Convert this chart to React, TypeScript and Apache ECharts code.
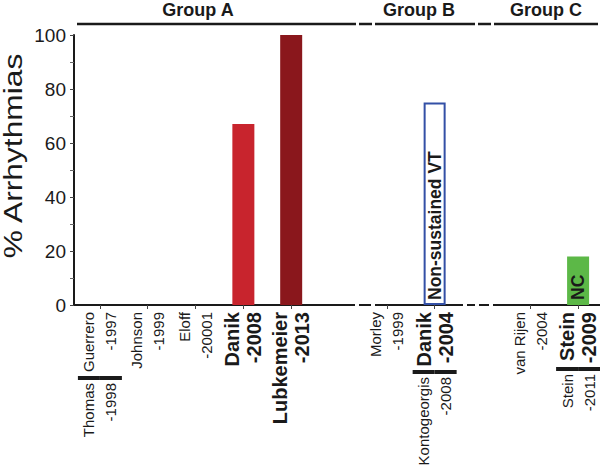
import React, { useEffect, useRef } from 'react';
import * as echarts from 'echarts';

// ---- data ----
const categories = [
  'Thomas | Guerrero', 'Johnson', 'Eloff', 'Danik 2008', 'Lubkemeier', 'gapAB',
  'Morley', 'Kontogeorgis | Danik', 'gapBC', 'van Rijen', 'Stein | Stein',
];
const authorCells = [
  ['Thomas', 'Guerrero'], ['Johnson'], ['Eloff'], ['Danik'], ['Lubkemeier'], [],
  ['Morley'], ['Kontogeorgis', 'Danik'], [], ['van Rijen'], ['Stein', 'Stein'],
];
const yearCells = [
  ['-1998', '-1997'], ['-1999'], ['-20001'], ['-2008'], ['-2013'], [],
  ['-1999'], ['-2008', '-2004'], [], ['-2004'], ['-2011', '-2009'],
];
const highlighted = [
  [false, false], [false], [false], [true], [true], [],
  [false], [false, true], [], [false], [false, true],
];
const arrhythmiaPct: (number | null)[] = [0, 0, 0, 67, 100, null, 0, 75, null, 0, 18];
const barNotes = ['', '', '', '', '', '', '', 'Non-sustained VT', '', '', 'NC'];
const groupNames = ['Group A', 'Group B', 'Group C'];

// ---- styles ----
const FONT = '"Liberation Sans", Arial, Helvetica, sans-serif';
const INK = '#1a1a1a';
const NORMAL = 15;
const BOLD = 20;
const LH = 22;
const barStyles: Record<number, any> = {
  3: { color: '#c8242d' },
  4: { color: '#8a171c' },
  7: { color: '#ffffff', borderColor: '#3350a6', borderWidth: 2 },
  10: { color: '#5cb847' },
};

export default function App() {
  const ref = useRef<HTMLDivElement>(null);

  useEffect(() => {
    document.body.style.margin = '0';
    if (!ref.current) return;
    const chart = echarts.init(ref.current, null, { renderer: 'svg' });

    const ctx = document.createElement('canvas').getContext('2d')!;
    const measure = (t: string, bold: boolean) => {
      ctx.font = `${bold ? 'bold' : 'normal'} ${bold ? BOLD : NORMAL}px ${FONT}`;
      return Math.ceil(ctx.measureText(t).width);
    };

    const rich: any = {
      n: { fontFamily: FONT, fontSize: NORMAL, lineHeight: LH, color: INK, align: 'right' },
      b: { fontFamily: FONT, fontSize: BOLD, fontWeight: 'bold', lineHeight: LH, color: INK, align: 'right' },
      gap: { width: 3, lineHeight: LH, fontSize: NORMAL, align: 'right' },
      bar: { width: 4, height: LH, lineHeight: LH, fontSize: NORMAL, backgroundColor: INK, align: 'right' },
    };
    authorCells.forEach((cells, i) => {
      if (cells.length === 2) {
        [0, 1].forEach((k) => {
          const bold = highlighted[i][k];
          const w = Math.max(measure(cells[k], bold), measure(yearCells[i][k], bold));
          rich[`c${i}k${k}`] = { ...(bold ? rich.b : rich.n), width: w };
        });
      }
    });

    const formatter = (value: string) => {
      const i = categories.indexOf(value);
      const a = authorCells[i];
      const y = yearCells[i];
      const h = highlighted[i];
      if (!a || !a.length) return '';
      if (a.length === 1) {
        const s = h[0] ? 'b' : 'n';
        return `{${s}|${a[0]}}\n{${s}|${y[0]}}`;
      }
      const sep = '{gap| }{bar| }{gap| }';
      return `{c${i}k0|${a[0]}}${sep}{c${i}k1|${a[1]}}\n{c${i}k0|${y[0]}}${sep}{c${i}k1|${y[1]}}`;
    };

    const seriesData = arrhythmiaPct.map((v, i) => {
      const item: any = { value: v == null ? '-' : v };
      if (barStyles[i]) item.itemStyle = barStyles[i];
      if (barNotes[i]) {
        item.label = {
          show: true,
          formatter: barNotes[i],
          position: 'insideBottom',
          distance: 5,
          rotate: 90,
          align: 'left',
          verticalAlign: 'middle',
          fontFamily: FONT,
          fontSize: 17.5,
          fontWeight: 'bold',
          color: INK,
        };
      }
      return item;
    });

    const topSegments = [[77, 356], [359, 372], [375, 475], [478, 491], [494, 598]];
    const bottomSegments = [[73, 355], [359, 371], [375, 463], [467, 475], [479, 489], [493, 600]];
    const groupX = [198, 419, 546];

    const graphic: any[] = [
      ...topSegments.map(([x1, x2]) => ({
        type: 'line', shape: { x1, y1: 24, x2, y2: 24 },
        style: { stroke: INK, lineWidth: 2.5 }, silent: true,
      })),
      ...bottomSegments.map(([x1, x2]) => ({
        type: 'line', shape: { x1, y1: 305, x2, y2: 305 },
        style: { stroke: INK, lineWidth: 2 }, silent: true,
      })),
      ...groupNames.map((g, i) => ({
        type: 'text', x: groupX[i], y: 10,
        style: { text: g, fontFamily: FONT, fontSize: 18, fontWeight: 'bold', fill: INK, align: 'center', verticalAlign: 'middle' },
      })),
      {
        type: 'text', x: 13, y: 156, rotation: Math.PI / 2, scaleX: 1.22,
        style: { text: '% Arrhythmias', fontFamily: FONT, fontSize: 26, fill: INK, align: 'center', verticalAlign: 'middle' },
      },
    ];

    chart.setOption({
      animation: false,
      grid: { left: 76, top: 35, width: 526, height: 270, outerBoundsMode: 'none', containLabel: false },
      xAxis: {
        type: 'category',
        data: categories,
        axisLine: { show: false },
        axisTick: {
          show: true, alignWithLabel: true, length: 4,
          interval: (index: number, value: string) => !String(value).startsWith('gap'),
          lineStyle: { color: '#444', width: 1 },
        },
        axisLabel: { interval: 0, rotate: 90, margin: 7, formatter, rich, color: INK, fontFamily: FONT },
      },
      yAxis: {
        type: 'value',
        min: 0, max: 100, interval: 20,
        offset: 2,
        axisLine: { show: true, lineStyle: { color: INK, width: 2 } },
        axisTick: { show: true, length: 4, lineStyle: { color: '#444' } },
        minorTick: { show: true, splitNumber: 2, length: 4, lineStyle: { color: '#666' } },
        splitLine: { show: false },
        axisLabel: { fontFamily: FONT, fontSize: 19, color: INK, margin: 8 },
      },
      series: [{
        type: 'bar',
        barWidth: 22,
        data: seriesData,
      }],
      graphic,
    });

    return () => chart.dispose();
  }, []);

  return <div ref={ref} style={{ width: 600, height: 468 }} />;
}
